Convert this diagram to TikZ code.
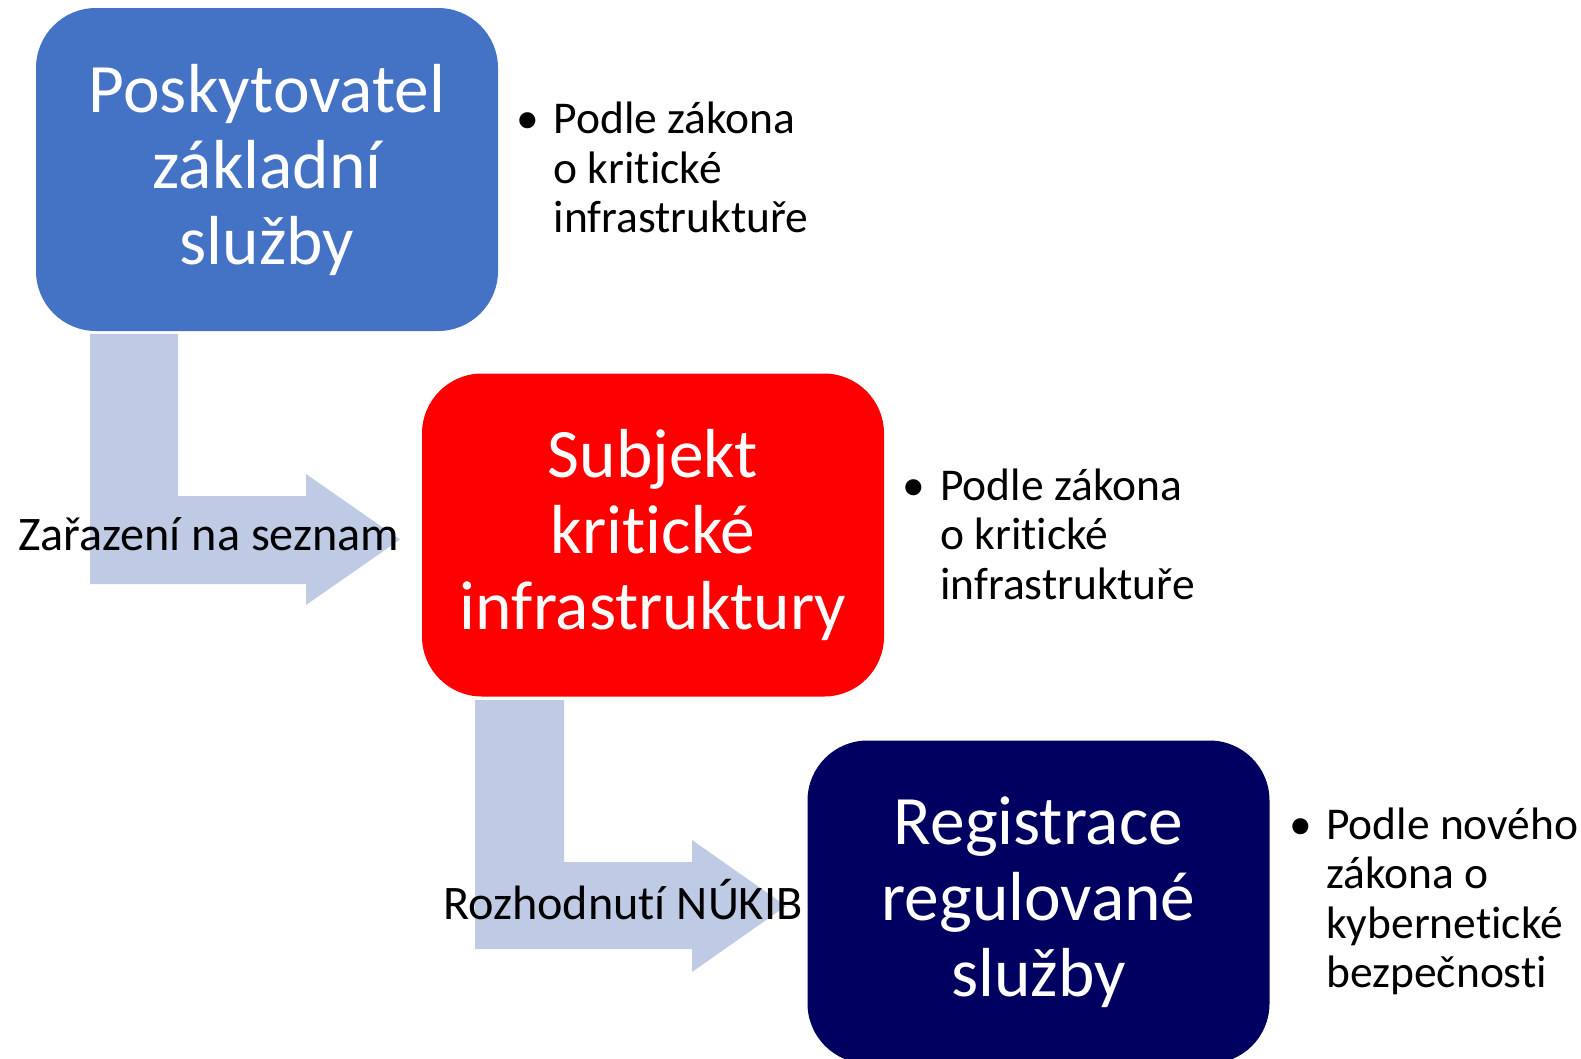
\documentclass[tikz,border=0pt]{standalone}
\usepackage{fontspec}
\setmainfont[Ligatures=NoCommon]{Carlito}
\definecolor{boxblue}{HTML}{4472C4}
\definecolor{boxred}{HTML}{FF0000}
\definecolor{boxnavy}{HTML}{000060}
\definecolor{arrowfill}{HTML}{BFCAE4}
\begin{document}
\begin{tikzpicture}[x=1pt,y=-1pt,
  box/.style={rounded corners=60pt, minimum width=462pt, minimum height=323pt,
    text=white, align=center, inner sep=0pt, font=\fontsize{69.4}{76}\selectfont},
  bul/.style={anchor=base, inner sep=0pt, font=\fontsize{45.5}{49.6}\selectfont},
  bultext/.style={anchor=base west, inner sep=0pt, align=left, font=\fontsize{45.5}{49.6}\selectfont},
  lbl/.style={anchor=base west, inner sep=0pt, font=\fontsize{48.2}{56}\selectfont},
  bentarrow/.style={fill=arrowfill, draw=none}]
\useasboundingbox (0,0) rectangle (1581,1058);
\clip (0,0) rectangle (1581,1058);
% bent arrows
\fill[bentarrow] (90,334) -- (178,334) -- (178,496) -- (306,496) -- (306,474) -- (400,539.5)
  -- (306,605) -- (306,584) -- (90,584) -- cycle;
\fill[bentarrow] (475,700) -- (564,700) -- (564,862) -- (692,862) -- (692,840) -- (786,906)
  -- (692,972) -- (692,949) -- (475,949) -- cycle;
% boxes
\node[box, fill=boxblue] (b1) at (267,169.5) {Poskytovatel\\základní\\služby};
\node[box, fill=boxred] (b2) at (653,535) {Subjekt\\kritické\\infrastruktury};
\node[box, fill=boxnavy] (b3) at (1038.5,902) {Registrace\\regulované\\služby};
% labels
\node[lbl] (l1) at (18,550) {Zařazení na seznam};
\node[lbl] (l2) at (443,919) {Rozhodnutí NÚKIB};
% bullet lists (base anchor = last line's baseline)
\node[bul] (d1) at (528,133.5) {•};
\node[bultext] (t1) at (553.5,232.7) {Podle zákona\\o kritické\\infrastruktuře};
\node[bul] (d2) at (914,500) {•};
\node[bultext] (t2) at (940,599.2) {Podle zákona\\o kritické\\infrastruktuře};
\node[bul] (d3) at (1301,839) {•};
\node[bultext] (t3) at (1326,987.8) {Podle nového\\zákona o\\kybernetické\\bezpečnosti};
\end{tikzpicture}
\end{document}
